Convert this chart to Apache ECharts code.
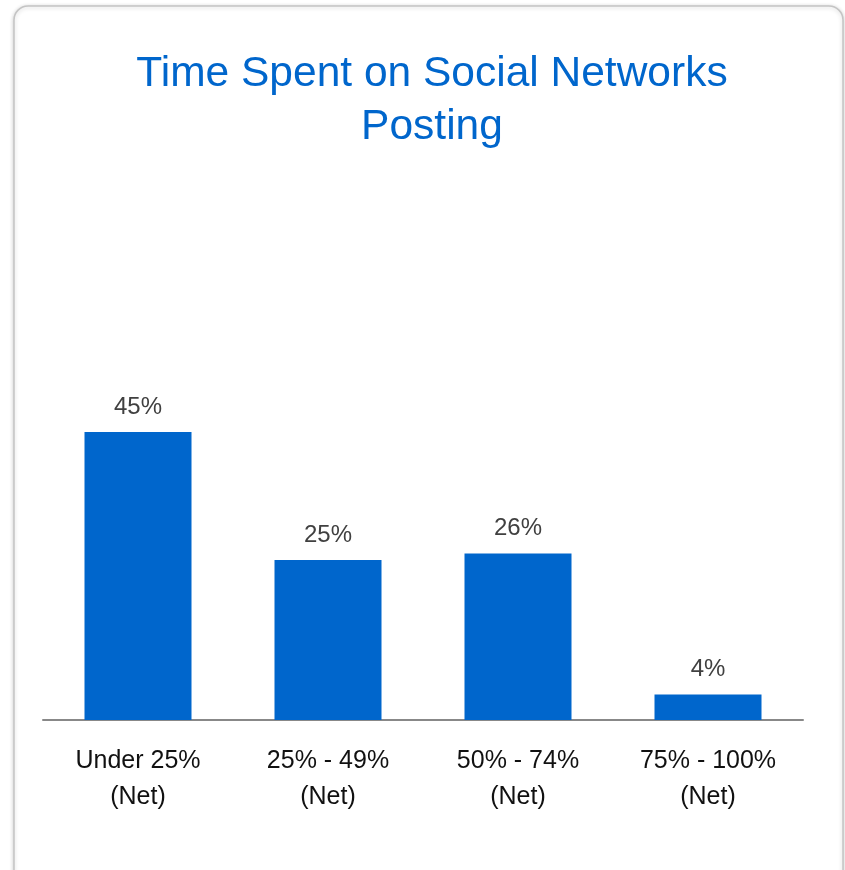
<!DOCTYPE html>
<html>
<head>
<meta charset="utf-8">
<script src="https://cdn.jsdelivr.net/npm/echarts@6/dist/echarts.min.js"></script>
<style>
  html, body { margin: 0; padding: 0; background: #ffffff; }
  #chart { width: 845px; height: 870px; }
</style>
</head>
<body>
<div id="chart"></div>
<script>
// Share of time spent posting on social networks
const categories = ['Under 25%\n(Net)', '25% - 49%\n(Net)', '50% - 74%\n(Net)', '75% - 100%\n(Net)'];
const shares = [45, 25, 26, 4];

const blue = '#0066cc';
const chart = echarts.init(document.getElementById('chart'));

chart.setOption({
  animation: false,
  backgroundColor: '#ffffff',
  graphic: [{
    type: 'rect',
    z: -10,
    shape: { x: 14, y: 6, width: 829, height: 900, r: 14 },
    style: {
      fill: '#ffffff',
      stroke: '#c4c4c4',
      lineWidth: 1.5,
      shadowBlur: 4,
      shadowColor: 'rgba(0,0,0,0.18)',
      shadowOffsetY: 1
    }
  }],
  title: {
    text: 'Time Spent on Social Networks\nPosting',
    left: 427,
    textAlign: 'center',
    top: 43,
    textStyle: {
      fontFamily: 'Liberation Sans, Arial, sans-serif',
      fontSize: 42.5,
      fontWeight: 'normal',
      color: blue,
      lineHeight: 53
    }
  },
  grid: { left: 43, top: 400, width: 760, height: 320, containLabel: false },
  xAxis: {
    type: 'category',
    data: categories,
    axisTick: { show: false },
    axisLine: { lineStyle: { color: '#888888', width: 2 } },
    axisLabel: {
      margin: 23,
      fontFamily: 'Liberation Sans, Arial, sans-serif',
      fontSize: 25,
      lineHeight: 36,
      color: '#111111'
    }
  },
  yAxis: {
    type: 'value',
    min: 0,
    max: 50,
    show: false,
    splitLine: { show: false }
  },
  series: [{
    type: 'bar',
    data: shares,
    barWidth: 107,
    itemStyle: { color: blue },
    label: {
      show: true,
      position: 'top',
      distance: 13,
      formatter: '{c}%',
      fontFamily: 'Liberation Sans, Arial, sans-serif',
      fontSize: 24,
      color: '#404040'
    }
  }]
});
</script>
</body>
</html>
